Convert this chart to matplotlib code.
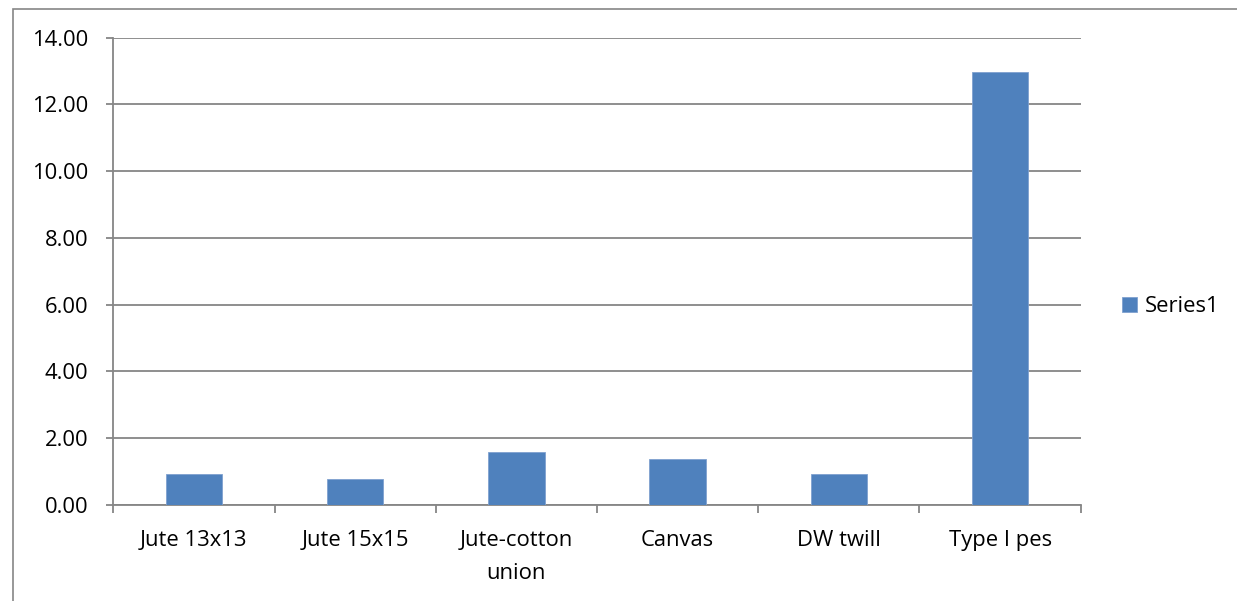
import matplotlib
matplotlib.use("Agg")
import matplotlib.pyplot as plt
from matplotlib.patches import Rectangle
from matplotlib.ticker import FixedLocator, FormatStrFormatter

categories = ["Jute 13x13", "Jute 15x15", "Jute-cotton\nunion", "Canvas", "DW twill", "Type I pes"]
values = [0.93, 0.79, 1.59, 1.39, 0.92, 12.96]
series_name = "Series1"

plt.rcParams['font.family'] = ['Open Sans', 'DejaVu Sans']
fs = 15.8

fig = plt.figure(figsize=(12.37, 6.01), dpi=100)
ax = fig.add_axes([113.3 / 1237, 1 - 505 / 601, (1080.7 - 113.3) / 1237, (505 - 37.7) / 601])

grey = "#868686"
pos = list(range(len(categories)))
ax.bar(pos, values, width=0.35, color="#4F81BD", edgecolor="#7FA1CF", linewidth=0.6,
       label=series_name, zorder=3)

ax.set_xlim(-0.5, len(categories) - 0.5)
ax.set_ylim(0, 14)
ax.set_yticks([0, 2, 4, 6, 8, 10, 12, 14])
ax.yaxis.set_major_formatter(FormatStrFormatter("%.2f"))
ax.yaxis.grid(True, color=grey, linewidth=1.3, zorder=0)

# category boundaries carry the ticks, names sit at the centres
ax.xaxis.set_major_locator(FixedLocator([p - 0.5 for p in pos] + [len(categories) - 0.5]))
ax.set_xticklabels([""] * (len(categories) + 1))
ax.set_xticks(pos, minor=True)
ax.set_xticklabels(categories, minor=True, linespacing=1.75)
ax.tick_params(axis="x", which="minor", length=0, pad=18, labelsize=fs)
ax.tick_params(axis="x", which="major", length=6, width=1.3, color=grey, direction="out")
ax.tick_params(axis="y", length=5, width=1.3, color=grey, pad=13, labelsize=fs)

for s in ["top", "right"]:
    ax.spines[s].set_visible(False)
for s in ["left", "bottom"]:
    ax.spines[s].set_color(grey)
    ax.spines[s].set_linewidth(1.3)

fig.legend(loc="center left", bbox_to_anchor=(1122 / 1237, 1 - 306.5 / 601), frameon=False,
           fontsize=fs, handlelength=0.7, handleheight=0.7, handletextpad=0.35,
           borderpad=0, borderaxespad=0)

# outer chart border (cropped on right and bottom)
fig.patches.append(Rectangle((13 / 1237, -0.05), 1.1, 1.05 - 9 / 601, transform=fig.transFigure,
                             fill=False, edgecolor=grey, linewidth=1.2))

fig.savefig("out.png", dpi=100)
